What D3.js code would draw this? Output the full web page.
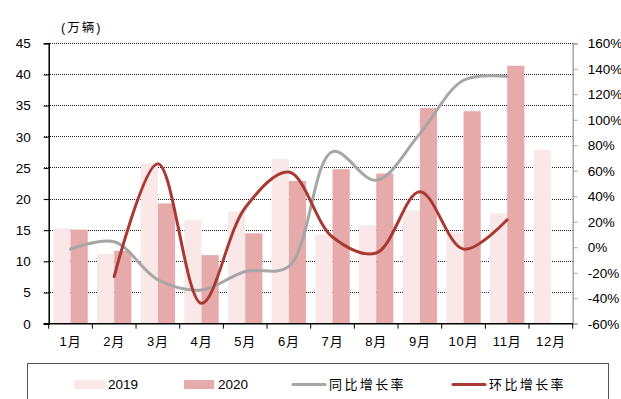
<!DOCTYPE html>
<html>
<head>
<meta charset="utf-8">
<script src="https://cdn.jsdelivr.net/npm/d3@7/dist/d3.min.js"></script>
<style>
  html, body { margin: 0; padding: 0; background: #fff; }
  svg { display: block; }
  text { font-family: "Liberation Sans", Arial, "Noto Sans CJK SC", sans-serif; fill: #000; }
  .cjk { font-family: "Liberation Sans", "Noto Sans CJK SC", sans-serif; }
</style>
</head>
<body>
<svg id="chart" width="621" height="399"></svg>
<script>
const months = ["1月","2月","3月","4月","5月","6月","7月","8月","9月","10月","11月","12月"];
const sales2019 = [15.3, 11.2, 25.7, 16.6, 18.0, 26.4, 14.3, 15.8, 18.2, 14.6, 17.7, 27.9];
const sales2020 = [15.1, 11.7, 19.3, 11.0, 14.5, 22.9, 24.8, 24.1, 34.6, 34.1, 41.4, null];
const yoy = [-1.5, 4.3, -25.5, -33.5, -19, -15, 75, 52.5, 89, 131, 134, null];
const mom = [null, -23, 65.5, -44, 31, 59, 8, -4.5, 43.5, -1.5, 21.5, null];
const leftTicks = [0, 5, 10, 15, 20, 25, 30, 35, 40, 45];
const rightTicks = [-60, -40, -20, 0, 20, 40, 60, 80, 100, 120, 140, 160];
const seriesNames = ["2019", "2020"];

const C2019 = "#FAE8E8", C2020 = "#E6AAAA", CGRAY = "#A6A6A6", CRED = "#A93A33";

const svg = d3.select("#chart");
const L = 48.7, R = 572.7, T = 43.3, B = 323.7;

const x = d3.scaleBand().domain(months).range([L, R]).padding(0);
const xs = d3.scaleBand().domain(seriesNames).range([0, x.bandwidth()]).paddingInner(0).paddingOuter(0.27);
const yL = d3.scaleLinear().domain([0, 45]).range([B, T]);
const yR = d3.scaleLinear().domain([-60, 160]).range([B, T]);

// gridlines
svg.append("g").selectAll("line").data(leftTicks.filter(d => d > 0)).join("line")
  .attr("x1", L - 5).attr("x2", R)
  .attr("y1", d => yL(d)).attr("y2", d => yL(d))
  .attr("stroke", "#222").attr("stroke-width", 1).attr("stroke-dasharray", "1,1")
  .attr("shape-rendering", "crispEdges");

// bars
const barData = [];
months.forEach((m, i) => {
  if (sales2019[i] != null) barData.push({m, s: "2019", v: sales2019[i]});
  if (sales2020[i] != null) barData.push({m, s: "2020", v: sales2020[i]});
});
svg.append("g").selectAll("rect").data(barData).join("rect")
  .attr("x", d => x(d.m) + xs(d.s))
  .attr("width", xs.bandwidth())
  .attr("y", d => yL(d.v))
  .attr("height", d => yL(0) - yL(d.v))
  .attr("fill", d => d.s === "2019" ? C2019 : C2020);

// left axis
const gL = svg.append("g").attr("transform", `translate(${L},0)`)
  .call(d3.axisLeft(yL).tickValues(leftTicks).tickSize(5).tickPadding(13).tickFormat(d3.format("d")));
gL.select(".domain").attr("stroke", "#000").attr("stroke-width", 1.5);
gL.selectAll(".tick line").attr("stroke", "#000");
gL.selectAll("text").attr("font-size", 13.5).attr("font-family", "Liberation Sans, Arial, sans-serif");

// right axis
const gR = svg.append("g").attr("transform", `translate(${R},0)`)
  .call(d3.axisRight(yR).tickValues(rightTicks).tickSize(5).tickPadding(10).tickFormat(d => d + "%"));
gR.select(".domain").attr("stroke", CGRAY).attr("stroke-width", 1.5);
gR.selectAll(".tick line").attr("stroke", CGRAY);
gR.selectAll("text").attr("font-size", 13.5).attr("font-family", "Liberation Sans, Arial, sans-serif");

// bottom axis
svg.append("line").attr("x1", L - 5).attr("x2", R).attr("y1", B).attr("y2", B)
  .attr("stroke", "#000").attr("stroke-width", 1.5);
const bounds = months.map(m => x(m)).concat([R]);
svg.append("g").selectAll("line").data(bounds).join("line")
  .attr("x1", d => d).attr("x2", d => d).attr("y1", B).attr("y2", B + 5)
  .attr("stroke", "#000").attr("stroke-width", 1);
svg.append("g").selectAll("text").data(months).join("text")
  .attr("class", "cjk")
  .attr("x", d => x(d) + x.bandwidth() / 2)
  .attr("y", 346)
  .attr("text-anchor", "middle")
  .attr("font-size", 13)
  .attr("letter-spacing", 0.8)
  .text(d => d);

// lines
const cx = m => x(m) + x.bandwidth() / 2;
const lineGen = d3.line()
  .defined(d => d.v != null)
  .x(d => cx(d.m)).y(d => yR(d.v))
  .curve(d3.curveCatmullRom.alpha(0.5));
const yoyData = months.map((m, i) => ({m, v: yoy[i]})).filter(d => d.v != null);
const momData = months.map((m, i) => ({m, v: mom[i]})).filter(d => d.v != null);
svg.append("path").datum(yoyData).attr("d", lineGen)
  .attr("fill", "none").attr("stroke", CGRAY).attr("stroke-width", 3).attr("stroke-linecap", "round");
svg.append("path").datum(momData).attr("d", lineGen)
  .attr("fill", "none").attr("stroke", CRED).attr("stroke-width", 3).attr("stroke-linecap", "round");

// unit label
svg.append("text").attr("class", "cjk").attr("x", 61).attr("y", 32)
  .attr("font-size", 12.5).attr("letter-spacing", 2).text("(万辆)");

// legend
svg.append("rect").attr("x", 27.5).attr("y", 363.5).attr("width", 581).attr("height", 50)
  .attr("fill", "none").attr("stroke", "#555").attr("stroke-width", 1);
const lg = svg.append("g");
lg.append("rect").attr("x", 74).attr("y", 380).attr("width", 31).attr("height", 9).attr("fill", C2019);
lg.append("text").attr("x", 108).attr("y", 389).attr("font-size", 13.5).text(seriesNames[0]);
lg.append("rect").attr("x", 184).attr("y", 380).attr("width", 30).attr("height", 9).attr("fill", C2020);
lg.append("text").attr("x", 218).attr("y", 389).attr("font-size", 13.5).text(seriesNames[1]);
lg.append("line").attr("x1", 293).attr("x2", 325).attr("y1", 384.5).attr("y2", 384.5)
  .attr("stroke", CGRAY).attr("stroke-width", 3).attr("stroke-linecap", "round");
lg.append("text").attr("class", "cjk").attr("x", 329).attr("y", 389).attr("font-size", 13)
  .attr("letter-spacing", 2.4).text("同比增长率");
lg.append("line").attr("x1", 453).attr("x2", 485).attr("y1", 384.5).attr("y2", 384.5)
  .attr("stroke", CRED).attr("stroke-width", 3).attr("stroke-linecap", "round");
lg.append("text").attr("class", "cjk").attr("x", 489).attr("y", 389).attr("font-size", 13)
  .attr("letter-spacing", 2.4).text("环比增长率");
</script>
</body>
</html>
